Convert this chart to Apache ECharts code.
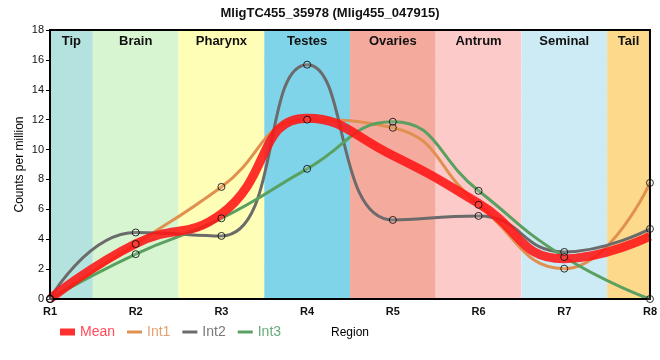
<!DOCTYPE html>
<html><head><meta charset="utf-8">
<script src="https://cdn.jsdelivr.net/npm/echarts@6/dist/echarts.min.js"></script>
<style>html,body{margin:0;padding:0;background:#fff}#c{width:660px;height:360px}</style>
</head><body><div id="c"></div>
<script>
var regionLabels = ['R1','R2','R3','R4','R5','R6','R7','R8'];
var regionX = [1,2,3,4,5,6,7,8];
var meanVals = [0, 3.7, 5.7, 12.1, 9.6, 6.4, 2.7, 4.2];
var int1Vals = [0, 3.68, 7.5, 12.0, 11.46, 6.3, 2.03, 7.77];
var int2Vals = [0, 4.45, 4.22, 15.68, 5.29, 5.56, 3.15, 4.69];
var int3Vals = [0, 3.0, 5.4, 8.71, 11.86, 7.24, 2.81, 0];
var bandNames = ['Tip','Brain','Pharynx','Testes','Ovaries','Antrum','Seminal','Tail'];
var bandStart = [1, 1.5, 2.5, 3.5, 4.5, 5.5, 6.5, 7.5];
var bandEnd = [1.5, 2.5, 3.5, 4.5, 5.5, 6.5, 7.5, 8];
var bandColors = ['#b4e2de','#d7f5d0','#fefeb6','#80d4ea','#f5aa9e','#fdcaca','#cdebf4','#fdd98c'];
var yTicks = [0,2,4,6,8,10,12,14,16,18];

var FONT = 'Liberation Sans, Arial, sans-serif';
function pairs(arr){ return arr.map(function(v,i){ return [regionX[i], v]; }); }

var areas = bandNames.map(function(n,i){
  return [{name:n, xAxis:bandStart[i], itemStyle:{color:bandColors[i]}}, {xAxis:bandEnd[i]}];
});

var lineColors = {Int1:'#e0904f', Int2:'#6b6b6b', Int3:'#5aa060'};
var legendText = {Mean:'#ff4a5a', Int1:'#e6a070', Int2:'#7a7a7a', Int3:'#6aab7a'};

function intSeries(name, vals){
  return {name:name, type:'line', data:pairs(vals), smooth:0.5, showSymbol:false, z:3,
    lineStyle:{width:3, color:lineColors[name]}, itemStyle:{color:lineColors[name]}, silent:true};
}
function dots(vals){
  return {type:'scatter', data:pairs(vals), symbol:'circle', symbolSize:7, z:10, silent:true,
    itemStyle:{color:'rgba(255,255,255,0.15)', borderColor:'#000', borderWidth:1}};
}

var chart = echarts.init(document.getElementById('c'), null, {renderer:'canvas'});
chart.setOption({
  animation:false,
  textStyle:{fontFamily:FONT},
  title:{text:'MligTC455_35978 (Mlig455_047915)', left:'center', top:2,
    textStyle:{fontSize:13, fontWeight:'bold', color:'#111', fontFamily:FONT}},
  legend:{left:55, top:320, itemGap:12, itemWidth:15, itemHeight:7,
    textStyle:{fontSize:14, fontFamily:FONT},
    data:[
      {name:'Mean', icon:'rect', textStyle:{color:legendText.Mean}},
      {name:'Int1', icon:'path://M0,0H15V3H0Z', textStyle:{color:legendText.Int1}},
      {name:'Int2', icon:'path://M0,0H15V3H0Z', textStyle:{color:legendText.Int2}},
      {name:'Int3', icon:'path://M0,0H15V3H0Z', textStyle:{color:legendText.Int3}}
    ]},
  grid:{left:50, right:10, top:30, bottom:61, show:true, borderColor:'#000', borderWidth:2, backgroundColor:'transparent', z:5},
  xAxis:{type:'value', min:1, max:8, interval:1,
    name:'Region', nameLocation:'middle', nameGap:28, nameTextStyle:{fontSize:12, color:'#000', fontFamily:FONT},
    axisLine:{lineStyle:{color:'#000', width:2}}, axisTick:{show:false},
    axisLabel:{margin:7, fontSize:11, fontWeight:'bold', color:'#111', fontFamily:FONT,
      formatter:function(v){ return regionLabels[regionX.indexOf(v)] || ''; }},
    splitLine:{show:true, lineStyle:{color:'#c8c8c8', width:1}}},
  yAxis:{type:'value', min:0, max:18, interval:2,
    name:'Counts per million', nameLocation:'middle', nameGap:24, nameMoveOverlap:false,
    nameTextStyle:{fontSize:12, color:'#000', fontFamily:FONT},
    axisLine:{show:true, lineStyle:{color:'#000', width:2}}, axisTick:{show:true, length:4, lineStyle:{color:'#000'}},
    axisLabel:{margin:6, fontSize:11, color:'#111', fontFamily:FONT,
      formatter:function(v){ return yTicks.indexOf(v) >= 0 ? String(v) : ''; }},
    splitLine:{show:true, lineStyle:{color:'#c8c8c8', width:1}}},
  series:[
    {type:'line', data:[], silent:true, z:0,
      markArea:{silent:true, label:{show:true, position:'insideTop', distance:5, fontSize:13, fontWeight:'bold', color:'#111', fontFamily:FONT},
        data:areas}},
    intSeries('Int1', int1Vals),
    intSeries('Int2', int2Vals),
    intSeries('Int3', int3Vals),
    {name:'Mean', type:'line', data:pairs(meanVals), smooth:0.5, showSymbol:false, z:4, silent:true,
      lineStyle:{width:9, color:'rgba(255,20,20,0.88)'}, itemStyle:{color:'#ff3030'}},
    dots(int1Vals), dots(int2Vals), dots(int3Vals)
  ]
});
</script></body></html>
